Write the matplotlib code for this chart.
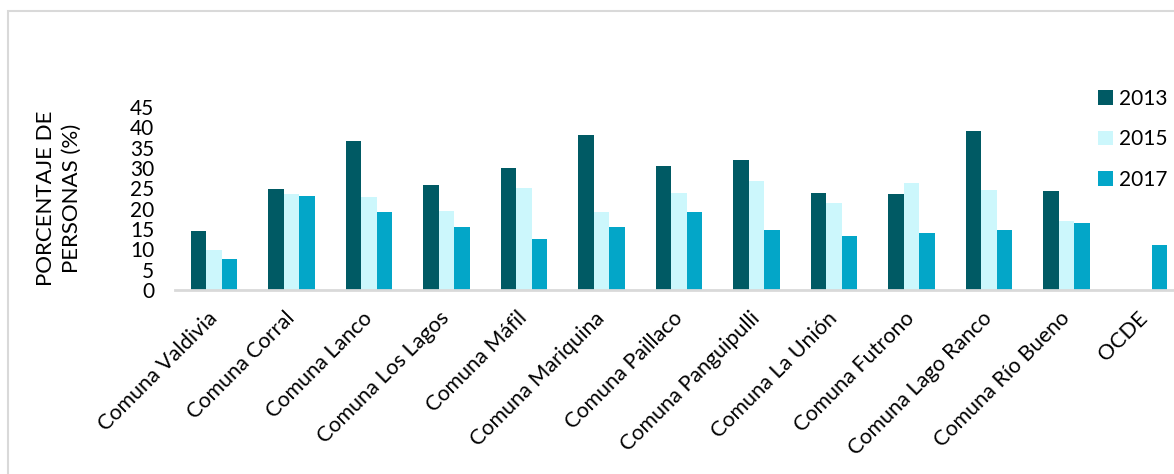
import matplotlib
matplotlib.use("Agg")
import matplotlib.pyplot as plt
import numpy as np
from matplotlib.patches import Rectangle
from matplotlib.transforms import ScaledTranslation

categories = ["Comuna Valdivia", "Comuna Corral", "Comuna Lanco", "Comuna Los Lagos",
              "Comuna Máfil", "Comuna Mariquina", "Comuna Paillaco", "Comuna Panguipulli",
              "Comuna La Unión", "Comuna Futrono", "Comuna Lago Ranco", "Comuna Río Bueno",
              "OCDE"]
series_names = ["2013", "2015", "2017"]
v2013 = [14.5, 24.8, 36.6, 25.8, 29.9, 38.2, 30.4, 31.9, 23.8, 23.7, 39.1, 24.4, np.nan]
v2015 = [9.8, 23.7, 22.9, 19.4, 25.1, 19.2, 23.8, 26.8, 21.4, 26.3, 24.6, 17.0, np.nan]
v2017 = [7.6, 23.1, 19.2, 15.5, 12.5, 15.6, 19.1, 14.7, 13.4, 14.1, 14.7, 16.4, 11.1]
yticks = [0, 5, 10, 15, 20, 25, 30, 35, 40, 45]
colors = ["#005A64", "#CCF7FC", "#03A6C8"]

plt.rcParams['font.family'] = ['Lato', 'DejaVu Sans']

W, H = 1174, 474
fig = plt.figure(figsize=(W / 100, H / 100), dpi=100)

# outer frame
fig.patches.append(Rectangle((8 / W, -0.1), 1.2, (H - 11) / H + 0.1, transform=fig.transFigure,
                             fill=False, edgecolor="#D9D9D9", linewidth=1.5))

ax = fig.add_axes([175 / W, (H - 290) / H, (1183 - 175) / W, 183 / H])
x = np.arange(len(categories))
bw = 0.2
for i, (vals, c, n) in enumerate(zip([v2013, v2015, v2017], colors, series_names)):
    ax.bar(x + (i - 1) * bw, vals, width=bw, color=c, label=n, edgecolor="none")

ax.set_xlim(-0.5, len(categories) - 0.5)
ax.set_ylim(0, 45)
ax.set_yticks(yticks)
ax.set_yticklabels([str(t) for t in yticks], fontsize=15)
ax.set_xticks(x)
ax.set_xticklabels(categories, rotation=45, ha="right", rotation_mode="anchor", fontsize=15.5)
ax.tick_params(axis="both", length=0)
ax.tick_params(axis="y", pad=15)
ax.tick_params(axis="x", pad=13)
shift = ScaledTranslation(-7 / 100, 0, fig.dpi_scale_trans)
for lab in ax.get_xticklabels():
    lab.set_transform(lab.get_transform() + shift)
for s in ["top", "right", "left"]:
    ax.spines[s].set_visible(False)
ax.spines["bottom"].set_color("#D9D9D9")
ax.spines["bottom"].set_linewidth(2)

fig.text(59 / W, (H - 198) / H, "PORCENTAJE DE\nPERSONAS (%)", rotation=90, ha="center",
         va="center", fontsize=16, multialignment="center", linespacing=1.4)

handles, labels = ax.get_legend_handles_labels()
fig.legend(handles, labels, loc="upper left", bbox_to_anchor=(1098 / W, (H - 89) / H),
           frameon=False, fontsize=15, handlelength=0.7, handleheight=0.7,
           handletextpad=0.3, labelspacing=0.98, borderaxespad=0, borderpad=0)

fig.savefig("out.png", dpi=100)
